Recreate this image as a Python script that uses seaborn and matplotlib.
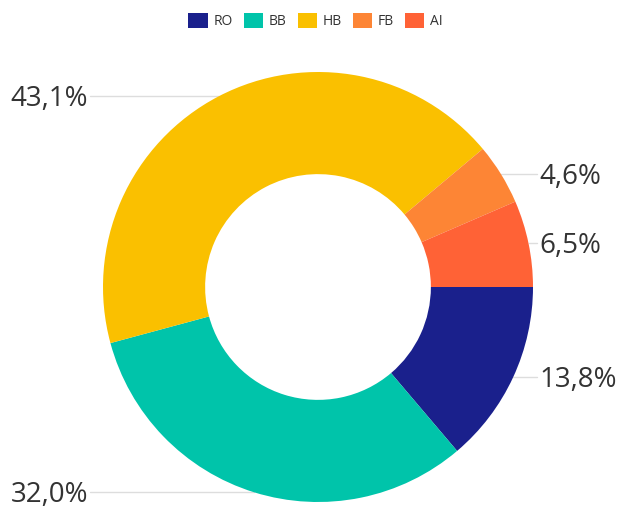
import numpy as np
import matplotlib
matplotlib.use("Agg")
import matplotlib.pyplot as plt
from matplotlib.patches import Patch
import seaborn as sns

categories = ["RO", "BB", "HB", "FB", "AI"]
values = [13.8, 32.0, 43.1, 4.6, 6.5]
labels = ["13,8%", "32,0%", "43,1%", "4,6%", "6,5%"]
colors = ["#1a208c", "#00c4aa", "#fac000", "#fd8535", "#ff6236"]

sns.set_theme(style="white")
plt.rcParams["font.family"] = ["Open Sans", "DejaVu Sans"]

W, H = 621, 509
fig = plt.figure(figsize=(W / 100, H / 100), dpi=100)
ax = fig.add_axes([0, 0, 1, 1])
cx, cy, R = 318, 287, 215

wedges, _ = ax.pie(values, colors=colors, startangle=0, counterclock=False,
                   radius=1.0, wedgeprops=dict(width=0.475, linewidth=0),
                   normalize=True)
ax.set_aspect("auto")
ax.set_xlim(-cx / R, (W - cx) / R)
ax.set_ylim((cy - H) / R, cy / R)
ax.axis("off")

for w, lab in zip(wedges, labels):
    mid = np.deg2rad((w.theta1 + w.theta2) / 2)
    x, y = np.cos(mid), np.sin(mid)
    ty = y - 0.012
    if x >= 0:
        tx = 1.03
        ax.plot([x, tx - 0.01], [y, y], color="#dddddd", lw=1, zorder=0)
        ax.text(tx, ty, lab, ha="left", va="center", fontsize=20, color="#333333")
    else:
        tx = -1.07
        ax.plot([tx + 0.01, x], [y, y], color="#dddddd", lw=1, zorder=0)
        ax.text(tx, ty, lab, ha="right", va="center", fontsize=20, color="#333333")

handles = [Patch(facecolor=c, edgecolor="none", label=n) for c, n in zip(colors, categories)]
leg = fig.legend(handles=handles, loc="upper center", bbox_to_anchor=(0.508, 1.0), ncol=5,
                 frameon=False, fontsize=10, handlelength=1.4, handleheight=1.3,
                 handletextpad=0.4, columnspacing=0.8, labelcolor="#333333")

fig.savefig("out.png", dpi=100)
